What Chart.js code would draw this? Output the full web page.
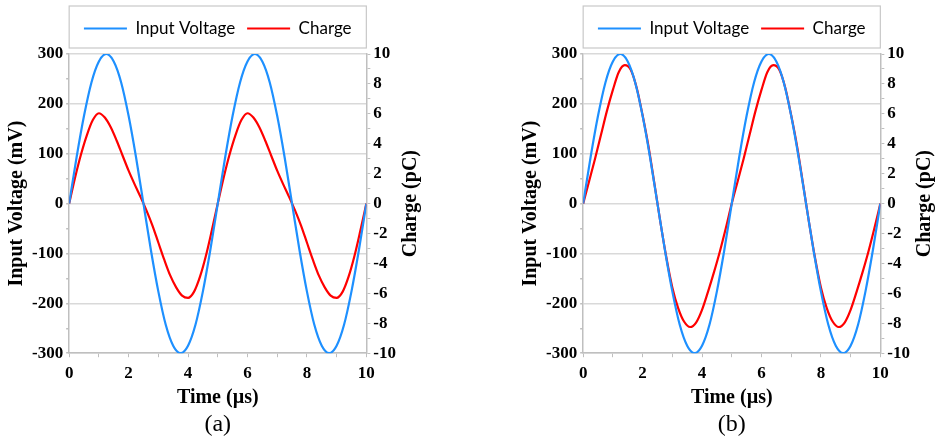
<!DOCTYPE html>
<html>
<head>
<meta charset="utf-8">
<script src="https://cdn.jsdelivr.net/npm/chart.js@4.4.1/dist/chart.umd.min.js"></script>
<style>
  body { margin: 0; background: #fff; }
  canvas { position: absolute; top: 0; }
  #chartA { left: 0; }
  #chartB { left: 514px; }
</style>
</head>
<body>
<canvas id="chartA" width="421" height="440"></canvas>
<canvas id="chartB" width="421" height="440"></canvas>
<script>
// time axis (us) for the drive voltage, 0.25 us steps
var timeV = [0, 0.25, 0.5, 0.75, 1, 1.25, 1.5, 1.75, 2, 2.25, 2.5, 2.75, 3, 3.25, 3.5, 3.75, 4, 4.25, 4.5, 4.75,
  5, 5.25, 5.5, 5.75, 6, 6.25, 6.5, 6.75, 7, 7.25, 7.5, 7.75, 8, 8.25, 8.5, 8.75, 9, 9.25, 9.5, 9.75, 10];
// input voltage (mV), same in both panels
var voltage = [0, 93, 176, 243, 285, 300, 285, 243, 176, 93, 0, -93, -176, -243, -285, -300, -285, -243, -176, -93,
  0, 93, 176, 243, 285, 300, 285, 243, 176, 93, 0, -93, -176, -243, -285, -300, -285, -243, -176, -93, 0];

// time axis (us) for the charge, 0.2 us steps
var timeQ = [0, 0.2, 0.4, 0.6, 0.8, 1, 1.2, 1.4, 1.6, 1.8, 2, 2.2, 2.4, 2.6, 2.8, 3, 3.2, 3.4, 3.6, 3.8,
  4, 4.2, 4.4, 4.6, 4.8, 5, 5.2, 5.4, 5.6, 5.8, 6, 6.2, 6.4, 6.6, 6.8, 7, 7.2, 7.4, 7.6, 7.8,
  8, 8.2, 8.4, 8.6, 8.8, 9, 9.2, 9.4, 9.6, 9.8, 10];
// charge (pC), panel (a)
var chargeA = [0, 1.75, 3.3, 4.6, 5.6, 6.04, 5.75, 5.1, 4.2, 3.2, 2.2, 1.3, 0.45, -0.45, -1.45, -2.6, -3.75, -4.8, -5.6, -6.15,
  -6.3, -5.9, -4.9, -3.5, -1.8, 0, 1.75, 3.3, 4.6, 5.6, 6.04, 5.75, 5.1, 4.2, 3.2, 2.2, 1.3, 0.45, -0.45, -1.45,
  -2.6, -3.75, -4.8, -5.6, -6.15, -6.3, -5.9, -4.9, -3.5, -1.8, 0];
// charge (pC), panel (b)
var chargeB = [0, 1.5, 3.0, 4.6, 6.2, 7.6, 8.8, 9.25, 8.95, 7.75, 5.9, 3.8, 1.3, -1.25, -3.6, -5.6, -7.0, -7.9, -8.25, -7.95,
  -7.1, -5.9, -4.6, -3.2, -1.65, 0, 1.5, 3.0, 4.6, 6.2, 7.6, 8.8, 9.25, 8.95, 7.75, 5.9, 3.8, 1.3, -1.25, -3.6,
  -5.6, -7.0, -7.9, -8.25, -7.95, -7.1, -5.9, -4.6, -3.2, -1.65, 0];

var seriesNames = ["Input Voltage", "Charge"];
var xTitle = "Time (\u00b5s)";
var yTitle = "Input Voltage (mV)";
var y1Title = "Charge (pC)";

var serif = "'Liberation Serif', 'Times New Roman', serif";
var axisGray = '#bfbfbf';

function points(xs, ys) {
  return xs.map(function (x, i) { return {x: x, y: ys[i]}; });
}

// a bit of room under the legend
var legendGap = {
  id: 'legendGap',
  beforeInit: function (chart) {
    var fit = chart.legend.fit;
    chart.legend.fit = function () {
      fit.call(this);
      this.height += 7;
    };
  }
};

// box round the legend and the right-hand axis title (reads bottom to top)
var extras = {
  id: 'extras',
  afterDraw: function (chart, args, opts) {
    var ctx = chart.ctx, area = chart.chartArea, lg = chart.legend;
    ctx.save();
    ctx.strokeStyle = '#c8c8c8';
    ctx.lineWidth = 1.2;
    ctx.strokeRect(area.left, lg.top - 2, area.right - area.left, 42);
    ctx.translate(chart.scales.y1.right + 12, (area.top + area.bottom) / 2);
    ctx.rotate(-Math.PI / 2);
    ctx.font = 'bold 20px ' + serif;
    ctx.fillStyle = '#000';
    ctx.textAlign = 'center';
    ctx.textBaseline = 'middle';
    ctx.fillText(opts.text, 0, 0);
    ctx.restore();
  }
};

function makeChart(id, charge, caption) {
  var tickFont = {family: serif, size: 17, weight: 'bold'};
  var titleFont = {family: serif, size: 20, weight: 'bold'};
  return new Chart(document.getElementById(id), {
    type: 'line',
    data: {
      datasets: [{
        label: seriesNames[0],
        data: points(timeV, voltage),
        yAxisID: 'y',
        borderColor: '#1e90ff',
        backgroundColor: '#1e90ff',
        borderWidth: 2.2,
        pointRadius: 0,
        cubicInterpolationMode: 'monotone'
      }, {
        label: seriesNames[1],
        data: points(timeQ, charge),
        yAxisID: 'y1',
        borderColor: '#ff0000',
        backgroundColor: '#ff0000',
        borderWidth: 2.2,
        pointRadius: 0,
        cubicInterpolationMode: 'monotone'
      }]
    },
    options: {
      responsive: false,
      animation: false,
      layout: {padding: {top: 8, right: 22, bottom: 1, left: 0}},
      plugins: {
        legend: {
          position: 'top',
          fullSize: false,
          labels: {
            usePointStyle: true,
            pointStyle: 'line',
            pointStyleWidth: 43,
            padding: 12,
            color: '#000',
            font: {family: 'Lato', size: 17}
          }
        },
        title: {
          display: true,
          text: caption,
          position: 'bottom',
          fullSize: false,
          color: '#000',
          font: {family: serif, size: 24, weight: 'normal'},
          padding: {top: 0, bottom: 0}
        },
        tooltip: {enabled: false},
        extras: {text: y1Title}
      },
      scales: {
        x: {
          type: 'linear',
          min: 0,
          max: 10,
          grid: {drawOnChartArea: false, tickLength: 4, tickColor: axisGray},
          border: {color: axisGray, width: 1.5},
          ticks: {
            stepSize: 1,
            autoSkip: false,
            maxRotation: 0,
            color: '#000',
            font: {family: serif, size: 17, weight: 'bold', lineHeight: 1},
            padding: 8,
            callback: function (v) { return v % 2 === 0 ? v : ''; }
          },
          title: {
            display: true,
            text: xTitle,
            color: '#000',
            font: {family: serif, size: 20, weight: 'bold', lineHeight: 0.8},
            padding: {top: 0, bottom: 4}
          }
        },
        y: {
          position: 'left',
          min: -300,
          max: 300,
          grid: {
            color: function (c) { return c.tick && c.tick.value % 100 === 0 ? '#d9d9d9' : 'rgba(0,0,0,0)'; },
            lineWidth: 1.5,
            tickLength: 3,
            tickColor: axisGray
          },
          border: {color: axisGray, width: 1.5},
          ticks: {
            stepSize: 50,
            autoSkip: false,
            color: '#000',
            font: tickFont,
            padding: 3,
            callback: function (v) { return v % 100 === 0 ? v : ''; }
          },
          title: {display: true, text: yTitle, color: '#000', font: titleFont, padding: {top: 5, bottom: 0}}
        },
        y1: {
          position: 'right',
          min: -10,
          max: 10,
          grid: {drawOnChartArea: false, tickLength: 4, tickColor: axisGray},
          border: {color: axisGray, width: 1.5},
          ticks: {
            stepSize: 1,
            autoSkip: false,
            color: '#000',
            font: tickFont,
            padding: 3,
            callback: function (v) { return v % 2 === 0 ? v : ''; }
          }
        }
      }
    },
    plugins: [legendGap, extras]
  });
}

makeChart('chartA', chargeA, '(a)');
makeChart('chartB', chargeB, '(b)');
</script>
</body>
</html>
